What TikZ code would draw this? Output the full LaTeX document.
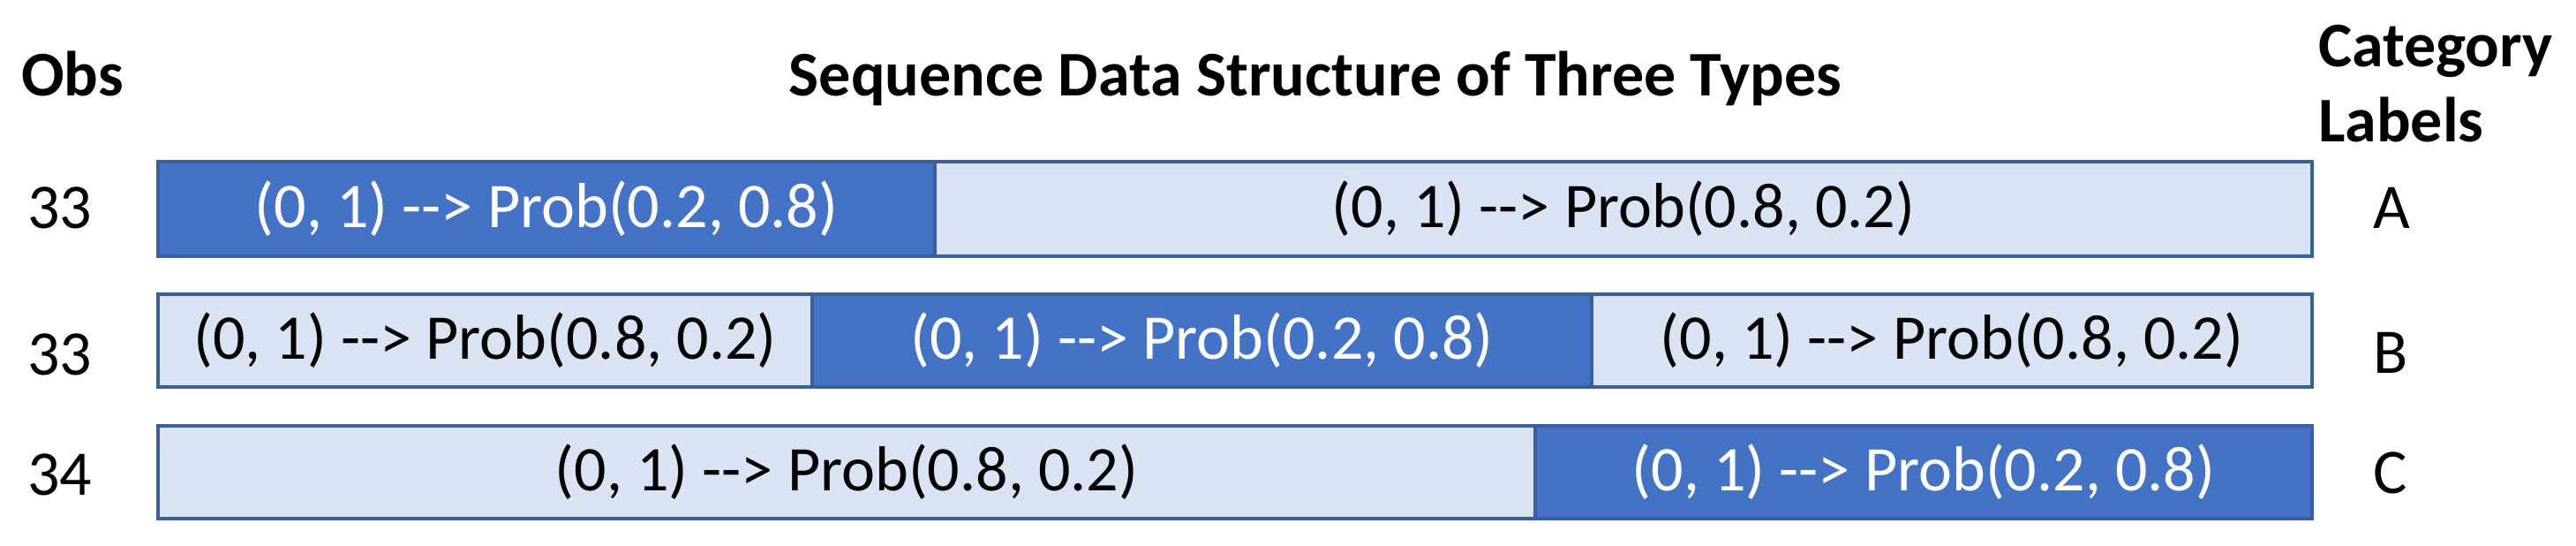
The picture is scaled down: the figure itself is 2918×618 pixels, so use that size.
\documentclass[tikz,border=0pt]{standalone}
\usepackage{fontspec}
\setmainfont{Carlito}
\definecolor{darkseg}{HTML}{4472C4}
\definecolor{lightseg}{HTML}{DAE3F3}
\definecolor{segline}{HTML}{3A5F9F}
\newcommand{\prb}[2]{(0, 1) -{}-> Prob(#1, #2)}
\begin{document}
\begin{tikzpicture}[x=1pt,y=-1pt,
  seg/.style={draw=segline,line width=4pt,inner sep=0pt,anchor=north west,
    font=\fontsize{72}{86}\selectfont},
  darkbox/.style={seg,fill=darkseg,text=white},
  lightbox/.style={seg,fill=lightseg,text=black},
  head/.style={font=\fontsize{72}{86}\selectfont\bfseries,anchor=base west,inner sep=0pt},
  plain/.style={font=\fontsize{72}{86}\selectfont,anchor=base west,inner sep=0pt}]
\useasboundingbox (0,0) rectangle (2918,618);
% headings
\node[head] (obs) at (24,108) {Obs};
\node[head,anchor=base] (title) at (1490,108) {Sequence Data Structure of Three Types};
\node[head] (cat) at (2626,75) {Category};
\node[head] (lab) at (2626,160) {Labels};
% row 1
\node[darkbox,minimum width=880pt,minimum height=107pt] (a1) at (177,181) {\prb{0.2}{0.8}};
\node[lightbox,minimum width=1560pt,minimum height=107pt] (a2) at (1057,181) {\prb{0.8}{0.2}};
% row 2
\node[lightbox,minimum width=741pt,minimum height=105pt] (b1) at (177,331) {\prb{0.8}{0.2}};
\node[darkbox,minimum width=883pt,minimum height=105pt] (b2) at (918,331) {\prb{0.2}{0.8}};
\node[lightbox,minimum width=816pt,minimum height=105pt] (b3) at (1801,331) {\prb{0.8}{0.2}};
% row 3
\node[lightbox,minimum width=1560pt,minimum height=105pt] (c1) at (177,480) {\prb{0.8}{0.2}};
\node[darkbox,minimum width=880pt,minimum height=105pt] (c2) at (1737,480) {\prb{0.2}{0.8}};
% observation counts
\node[plain] (n1) at (31,258) {33};
\node[plain] (n2) at (31,424) {33};
\node[plain] (n3) at (31,560) {34};
% category labels
\node[plain] (la) at (2688,258) {A};
\node[plain] (lb) at (2688,422) {B};
\node[plain] (lc) at (2688,558) {C};
\end{tikzpicture}
\end{document}
